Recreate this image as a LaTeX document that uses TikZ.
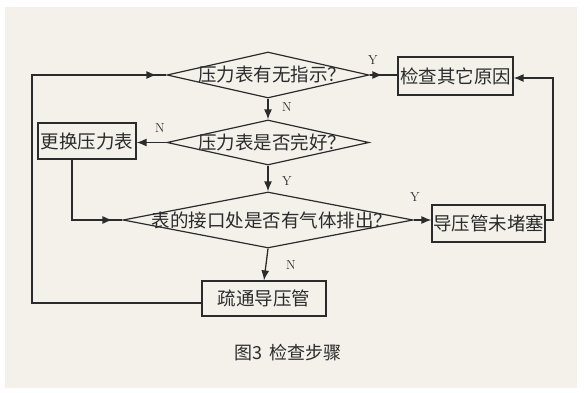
\documentclass[tikz,border=0pt]{standalone}
\usepackage{fontspec}
\newfontfamily\cjk{Noto Sans CJK SC}
\usetikzlibrary{arrows.meta, shapes.geometric, decorations.markings}
\definecolor{ink}{HTML}{2B2B2B}
\definecolor{paper}{HTML}{F3F1EA}

\begin{document}
\begin{tikzpicture}[
    x=1pt, y=-1pt, >={Latex[length=10pt,width=8pt]},
    cjk/.style={font=\cjk\fontsize{18.5}{20}\selectfont, text=ink},
    yn/.style={font=\fontsize{13}{14}\selectfont, text=ink},
    choice/.style={diamond, draw=ink, line width=1.2pt, inner sep=0pt, cjk},
    stepbox/.style={rectangle, draw=ink, line width=1.2pt, inner sep=0pt, cjk},
    flow/.style={draw=ink, line width=1.3pt},
    tipat/.style={postaction={decorate}, decoration={markings,
        mark=at position #1 with {\arrow{Latex[length=10pt,width=8pt]}}}},
]
% pixel grid of the scan: x to the right, y downwards
\fill[paper] (5,7) rectangle (577,388);
\useasboundingbox (0,0) rectangle (587,393);

% decisions
\node[choice, minimum width=202pt, minimum height=46pt] (d1) at (268,75)
    {\makebox[0pt]{\hspace{8pt}压力表有无指示？}};
\node[choice, minimum width=202pt, minimum height=45pt] (d2) at (268,142.5)
    {\makebox[0pt]{\hspace{8pt}压力表是否完好？}};
\node[choice, minimum width=290pt, minimum height=56pt] (d3) at (268,220)
    {\makebox[0pt]{\hspace{8pt}表的接口处是否有气体排出？}};

% actions
\node[stepbox, minimum width=115pt, minimum height=38pt] (other) at (455.5,76) {检查其它原因};
\node[stepbox, minimum width=98pt, minimum height=36pt] (renew) at (87,141) {更换压力表};
\node[stepbox, minimum width=113pt, minimum height=37pt] (clear) at (488.5,223.5) {导压管未堵塞};
\node[stepbox, minimum width=124pt, minimum height=35pt] (dredge) at (264,298.5) {疏通导压管};

% return lines run along these
\coordinate (lx) at (32,0);
\coordinate (rx) at (553,0);

% connectors
\draw[flow, tipat=-10pt] ([yshift=-4.5pt]dredge.west) -- ([yshift=-4.5pt]dredge.west -| lx) |- (d1.west);
\draw[flow, tipat=-15pt] (d1.east) -- (d1.east -| other.west);
\draw[flow, ->] (d1.south) -- (d2.north);
\draw[flow, ->] (d2.west) -- (d2.west -| renew.east);
\draw[flow, ->] (d2.south) -- (d3.north);
\draw[flow, tipat=-10pt] ([xshift=-15pt]renew.south) |- (d3.west);
\draw[flow, ->] (d3.east) -- (d3.east -| clear.west);
\draw[flow, ->] (d3.south) -- (dredge.north);
\draw[flow, ->] ([yshift=3.5pt]clear.east) -- ([yshift=3.5pt]clear.east -| rx) |- ([yshift=-2pt]other.east);

% branch labels
\node[yn] (y1) at (373,60) {Y};
\node[yn] (n1) at (287,107) {N};
\node[yn] (n2) at (160,128) {N};
\node[yn] (y2) at (287,181) {Y};
\node[yn] (y3) at (415,197) {Y};
\node[yn] (n3) at (291,265) {N};

% caption
\node[font=\cjk\fontsize{18}{20}\selectfont, text=ink] (cap) at (288,353) {图3\hspace{8pt}检查步骤};
\end{tikzpicture}
\end{document}
